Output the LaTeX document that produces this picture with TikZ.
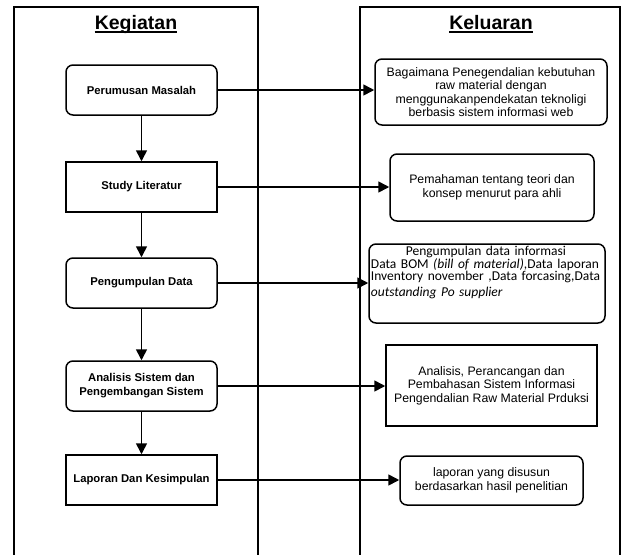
\documentclass[tikz,border=0pt]{standalone}
\usepackage{fontspec}
\setmainfont{Liberation Sans}
\newfontfamily\carl{Carlito}
\usetikzlibrary{arrows.meta}
\begin{document}
\begin{tikzpicture}[x=1pt,y=-1pt,
  panel/.style={line width=1.5pt},
  lbox/.style={draw, line width=1.5pt, minimum width=151pt, minimum height=50pt,
    font=\bfseries\fontsize{11.3}{14}\selectfont, align=center, inner sep=0pt},
  rbox/.style={draw, line width=1.5pt, font=\fontsize{12.3}{13.4}\selectfont,
    align=center, inner sep=0pt},
  rnd/.style={rounded corners=7pt},
  arr/.style={line width=1.6pt, -{Triangle[length=11pt,width=11pt]}},
  ttl/.style={font=\bfseries\fontsize{19.5}{22}\selectfont, inner sep=0pt, anchor=base},
  uline/.style={line width=1.3pt}
]
\useasboundingbox (0,0) rectangle (625,555);
% panels
\draw[panel] (14,560) -- (14,7) -- (258,7) -- (258,560);
\draw[panel] (360,560) -- (360,7) -- (620,7) -- (620,560);
% titles
\node[ttl] (tk) at (136,29) {Kegiatan};
\draw[uline] ([yshift=-3pt]tk.base west) -- ([yshift=-3pt]tk.base east);
\node[ttl] (tl) at (491,29) {Keluaran};
\draw[uline] ([yshift=-3pt]tl.base west) -- ([yshift=-3pt]tl.base east);
% left boxes
\node[lbox,rnd] (p1) at (141.5,90) {Perumusan Masalah};
\node[lbox] (p2) at (141.5,187) {Study Literatur};
\node[lbox,rnd] (p3) at (141.5,283) {Pengumpulan Data};
\node[lbox,rnd] (p4) at (141.5,386) {Analisis Sistem dan\\Pengembangan Sistem};
\node[lbox] (p5) at (141.5,480) {Laporan Dan Kesimpulan};
% right boxes
\node[rbox,rnd,minimum width=232pt,minimum height=66pt] (r1) at (491,92)
  {Bagaimana Penegendalian kebutuhan\\raw material dengan\\menggunakanpendekatan teknoligi\\berbasis sistem informasi web};
\node[rbox,rnd,minimum width=204pt,minimum height=67pt] (r2) at (492,187.5)
  {Pemahaman tentang teori dan\\konsep menurut para ahli};
\node[draw, line width=1.5pt, rnd, minimum width=236pt, minimum height=79pt, inner sep=0pt] (r3) at (487,283.5) {};
\node[anchor=north west, font=\carl\fontsize{13.5}{12.3}\selectfont, align=left, inner sep=0pt, text width=232pt]
  (r3t) at ([xshift=2.5pt,yshift=-3pt]r3.north west)
  {\hbox to 230pt{\hss Pengumpulan data informasi\hss}\\Data BOM \textit{(bill of material)},Data laporan\\Inventory november ,Data forcasing,Data\\[3.5pt]\textit{outstanding Po supplier}};
\node[rbox,minimum width=211pt,minimum height=81pt] (r4) at (491.5,385.5)
  {Analisis, Perancangan dan\\Pembahasan  Sistem Informasi\\Pengendalian Raw Material Prduksi};
\node[rbox,rnd,minimum width=183pt,minimum height=49pt] (r5) at (491.5,480.5)
  {laporan yang disusun\\berdasarkan hasil penelitian};
% vertical arrows
\draw[arr] (p1.south) -- (p2.north);
\draw[arr] (p2.south) -- (p3.north);
\draw[arr] (p3.south) -- (p4.north);
\draw[arr] (p4.south) -- (p5.north);
% horizontal arrows
\draw[arr] (p1.east) -- (p1.east -| r1.west);
\draw[arr] (p2.east) -- (p2.east -| r2.west);
\draw[arr] (p3.east) -- (p3.east -| r3.west);
\draw[arr] (p4.east) -- (p4.east -| r4.west);
\draw[arr] (p5.east) -- (p5.east -| r5.west);
\end{tikzpicture}
\end{document}
